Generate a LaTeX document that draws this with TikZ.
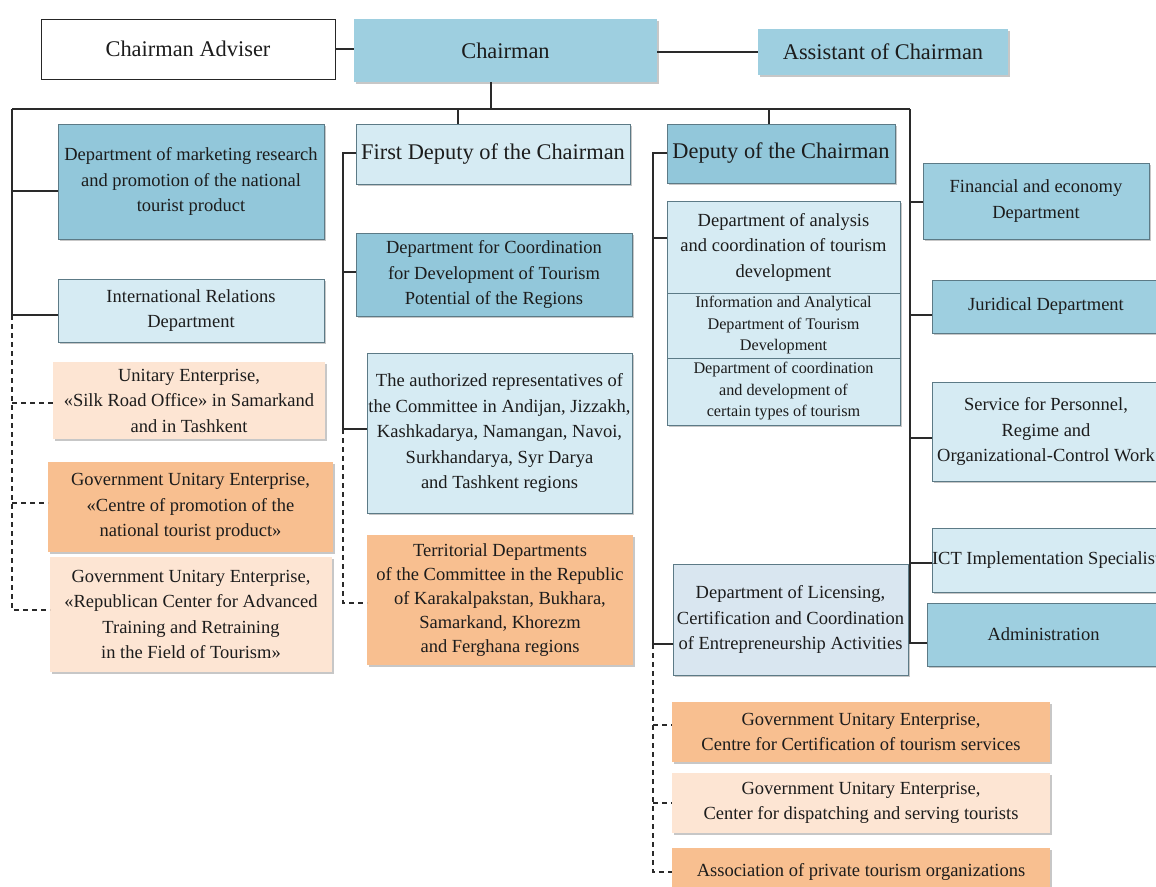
\documentclass[tikz,border=0pt]{standalone}
\usepackage{fontspec}
\setmainfont{Liberation Serif}
\usetikzlibrary{shadows}

\definecolor{bluemid}{HTML}{9ECFE0}
\definecolor{bluedeep}{HTML}{92C7DA}
\definecolor{bluepale}{HTML}{D6EBF3}
\definecolor{bluegrey}{HTML}{D9E6F0}
\definecolor{orangebox}{HTML}{F8BF90}
\definecolor{peachbox}{HTML}{FDE5D3}
\definecolor{edgecol}{HTML}{5C7A86}
\definecolor{linecol}{HTML}{2A2A2A}
\definecolor{textcol}{HTML}{1C1C1C}

\tikzset{
  box/.style={anchor=north west, inner sep=0pt, outer sep=0pt, align=center,
    text=textcol, font=\fontsize{18.5}{25.5}\selectfont},
  shade/.style={drop shadow={shadow xshift=2pt, shadow yshift=-2pt, fill=black, opacity=0.22}},
  titlefont/.style={font=\fontsize{22.4}{26}\selectfont},
  smallfont/.style={font=\fontsize{16.2}{21.5}\selectfont},
  plainbox/.style={box, draw=black!85, line width=1pt, fill=white},
  midbox/.style={box, shade, fill=bluemid},
  midframe/.style={box, shade, fill=bluemid, draw=edgecol, line width=0.9pt},
  deepframe/.style={box, shade, fill=bluedeep, draw=edgecol, line width=0.9pt},
  paleframe/.style={box, shade, fill=bluepale, draw=edgecol, line width=0.9pt},
  greyframe/.style={box, shade, fill=bluegrey, draw=edgecol, line width=0.9pt},
  orangefill/.style={box, shade, fill=orangebox},
  peachfill/.style={box, shade, fill=peachbox},
  link/.style={draw=linecol, line width=1.1pt},
  sublink/.style={link, dash pattern=on 5pt off 4pt}
}

\begin{document}
\begin{tikzpicture}[x=1pt, y=-1pt]
\useasboundingbox (0,0) rectangle (1156,886);
\clip (0,0) rectangle (1156,886);

% top row
\node[plainbox, minimum width=294, minimum height=60, titlefont] (adv) at (41,19) {Chairman Adviser};
\node[midbox, minimum width=303, minimum height=63, titlefont] (chair) at (354,19) {Chairman};
\node[midbox, minimum width=250, minimum height=46, titlefont] (asst) at (758,29) {Assistant of Chairman};

% left column
\node[deepframe, minimum width=266, minimum height=115] (mkt) at (58,124)
  {Department of marketing research\\and promotion of the national\\tourist product};
\node[paleframe, minimum width=266, minimum height=63] (intl) at (58,279)
  {International Relations\\Department};
\node[peachfill, minimum width=272, minimum height=77] (silk) at (53,362)
  {Unitary Enterprise,\\«Silk Road Office» in Samarkand\\and in Tashkent};
\node[orangefill, minimum width=285, minimum height=90] (cprom) at (48,462)
  {Government Unitary Enterprise,\\«Centre of promotion of the\\national tourist product»};
\node[peachfill, minimum width=282, minimum height=115] (repub) at (50,557)
  {Government Unitary Enterprise,\\«Republican Center for Advanced\\Training and Retraining\\in the Field of Tourism»};

% first deputy column
\node[paleframe, minimum width=274, minimum height=60, titlefont] (fdep) at (356,124)
  {First Deputy of the Chairman};
\node[deepframe, minimum width=276, minimum height=83] (coord) at (356,233)
  {Department for Coordination\\for Development of Tourism\\Potential of the Regions};
\node[paleframe, minimum width=265, minimum height=160] (auth) at (367,353)
  {The authorized representatives of\\the Committee in  Andijan, Jizzakh,\\Kashkadarya,  Namangan, Navoi,\\Surkhandarya, Syr Darya\\and Tashkent regions};
\node[orangefill, minimum width=266, minimum height=130, font=\fontsize{18.5}{24}\selectfont] (terr) at (367,535)
  {Territorial Departments\\of the Committee in the Republic\\of Karakalpakstan, Bukhara,\\Samarkand, Khorezm\\and Ferghana regions};

% deputy column
\node[deepframe, minimum width=228, minimum height=59, titlefont] (dep) at (667,124)
  {Deputy of the Chairman};
\node[paleframe, minimum width=233, minimum height=92] (ana1) at (667,201)
  {Department of analysis\\and coordination of tourism\\development};
\node[paleframe, minimum width=233, minimum height=65, smallfont] (ana2) at (667,293)
  {Information and Analytical\\Department of Tourism\\Development};
\node[paleframe, minimum width=233, minimum height=67, smallfont] (ana3) at (667,358)
  {Department of coordination\\and development of\\certain types of tourism};
\node[greyframe, minimum width=235, minimum height=111] (lic) at (673,564)
  {Department of Licensing,\\Certification and Coordination\\of Entrepreneurship Activities};
\node[orangefill, minimum width=378, minimum height=60] (cert) at (672,702)
  {Government Unitary Enterprise,\\Centre for Certification of tourism services};
\node[peachfill, minimum width=378, minimum height=60] (disp) at (672,773)
  {Government Unitary Enterprise,\\Center for dispatching and serving tourists};
\node[orangefill, minimum width=378, minimum height=48] (assoc) at (672,848)
  {Association of private tourism organizations};

% right column
\node[midframe, minimum width=226, minimum height=76] (fin) at (923,163)
  {Financial and economy\\Department};
\node[midframe, minimum width=228, minimum height=53] (jur) at (932,280)
  {Juridical Department};
\node[paleframe, minimum width=228, minimum height=99] (serv) at (932,382)
  {Service for Personnel,\\Regime and\\Organizational-Control Work};
\node[paleframe, minimum width=228, minimum height=64] (ict) at (932,528)
  {ICT Implementation Specialist};
\node[midframe, minimum width=233, minimum height=63] (adm) at (927,603)
  {Administration};

% top links
\draw[link] (adv.east) -- (adv.east -| chair.west);
\draw[link] (chair.east |- asst.west) -- (asst.west);

% main bus
\coordinate (busC) at (491,109);
\coordinate (busL) at (12,109);
\coordinate (busR) at (910,109);
\coordinate (busF) at (458,109);
\coordinate (busD) at (769,109);
\draw[link] (busC |- chair.south) -- (busC);
\draw[link] (busL) -- (busR);
\draw[link] (busF) -- (busF |- fdep.north);
\draw[link] (busD) -- (busD |- dep.north);

% left branch
\coordinate (l1) at (12,191);
\coordinate (l2) at (12,315);
\coordinate (l3) at (12,403);
\coordinate (l4) at (12,503);
\coordinate (l5) at (12,610);
\draw[link] (busL) -- (l2);
\draw[link] (l1) -- (l1 -| mkt.west);
\draw[link] (l2) -- (l2 -| intl.west);
\draw[sublink] (l2) -- (l5) -- (l5 -| repub.west);
\draw[sublink] (l3) -- (l3 -| silk.west);
\draw[sublink] (l4) -- (l4 -| cprom.west);

% first deputy branch
\coordinate (f1) at (343,153);
\coordinate (f2) at (343,272);
\coordinate (f3) at (343,429);
\coordinate (f4) at (343,603);
\draw[link] (f1 -| fdep.west) -- (f1) -- (f3) -- (f3 -| auth.west);
\draw[link] (f2) -- (f2 -| coord.west);
\draw[sublink] (f3) -- (f4) -- (f4 -| terr.west);

% deputy branch
\coordinate (d1) at (653,153);
\coordinate (d2) at (653,238);
\coordinate (d3) at (653,644);
\coordinate (d4) at (653,725);
\coordinate (d5) at (653,803);
\coordinate (d6) at (653,872);
\draw[link] (d1 -| dep.west) -- (d1) -- (d3) -- (d3 -| lic.west);
\draw[link] (d2) -- (d2 -| ana1.west);
\draw[sublink] (d3) -- (d6) -- (d6 -| assoc.west);
\draw[sublink] (d4) -- (d4 -| cert.west);
\draw[sublink] (d5) -- (d5 -| disp.west);

% right branch
\coordinate (r1) at (910,202);
\coordinate (r2) at (910,315);
\coordinate (r3) at (910,438);
\coordinate (r4) at (910,563);
\coordinate (r5) at (910,643);
\draw[link] (busR) -- (r5) -- (r5 -| adm.west);
\draw[link] (r1) -- (r1 -| fin.west);
\draw[link] (r2) -- (r2 -| jur.west);
\draw[link] (r3) -- (r3 -| serv.west);
\draw[link] (r4) -- (r4 -| ict.west);
\end{tikzpicture}
\end{document}
